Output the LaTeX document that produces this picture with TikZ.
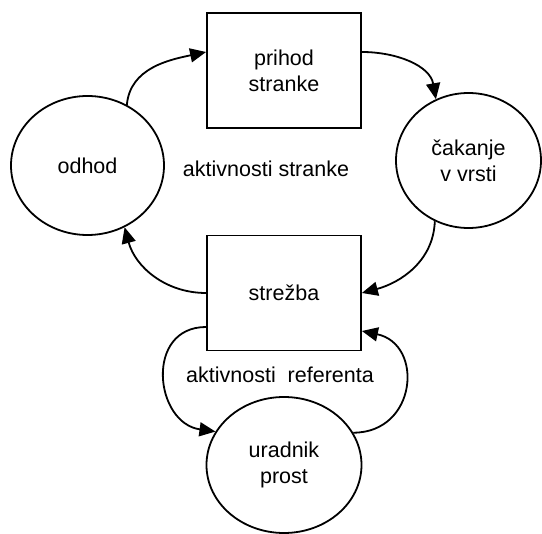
\documentclass[tikz,border=0pt]{standalone}
\usepackage{fontspec}
\setmainfont{Liberation Sans}
\usetikzlibrary{arrows.meta,shapes.geometric}
\begin{document}
\begin{tikzpicture}[x=1pt,y=1pt,
  every node/.style={font=\fontsize{21.5}{26}\selectfont, align=center},
  stagebox/.style={draw, line width=1.8pt, rectangle, minimum width=154pt,
    minimum height=115pt, inner sep=0pt},
  state/.style={draw, line width=1.8pt, ellipse, inner sep=0pt},
  flow/.style={line width=1.8pt, -{Triangle[length=16pt,width=14pt]}}]
\useasboundingbox (0,0) rectangle (542,-534);

% customer cycle
\node[stagebox] (prihod) at (284,-70.5) {prihod\\stranke};
\node[stagebox] (strezba) at (284,-293) {strežba};
\node[state, minimum width=153pt, minimum height=139pt] (odhod) at (87.5,-165.5) {odhod};
\node[state, minimum width=145pt, minimum height=135pt] (cakanje) at (468.5,-160.5) {čakanje\\v vrsti};
\node[state, minimum width=155pt, minimum height=136pt] (uradnik) at (284,-465) {uradnik\\prost};

% group labels
\node (lblstranka) at (266,-169) {aktivnosti stranke};
\node (lblreferent) at (280,-375) {aktivnosti\ \ referenta};

% transitions of the customer
\draw[flow] (odhod.57) to[out=85,in=192] ([yshift=18.5pt]prihod.west);
\draw[flow] ([yshift=18.5pt]prihod.east) to[out=0,in=100] (cakanje.118);
\draw[flow] (cakanje.241) to[out=-92,in=15] (strezba.east);
\draw[flow] (strezba.west) to[out=180,in=-75] (odhod.-59);

% clerk loop
\draw[flow] ([yshift=-34pt]strezba.west) to[out=180,in=172,looseness=1.5] (uradnik.154);
\draw[flow] (uradnik.25) to[out=0,in=-12,looseness=1.6] ([yshift=-38pt]strezba.east);
\end{tikzpicture}
\end{document}
